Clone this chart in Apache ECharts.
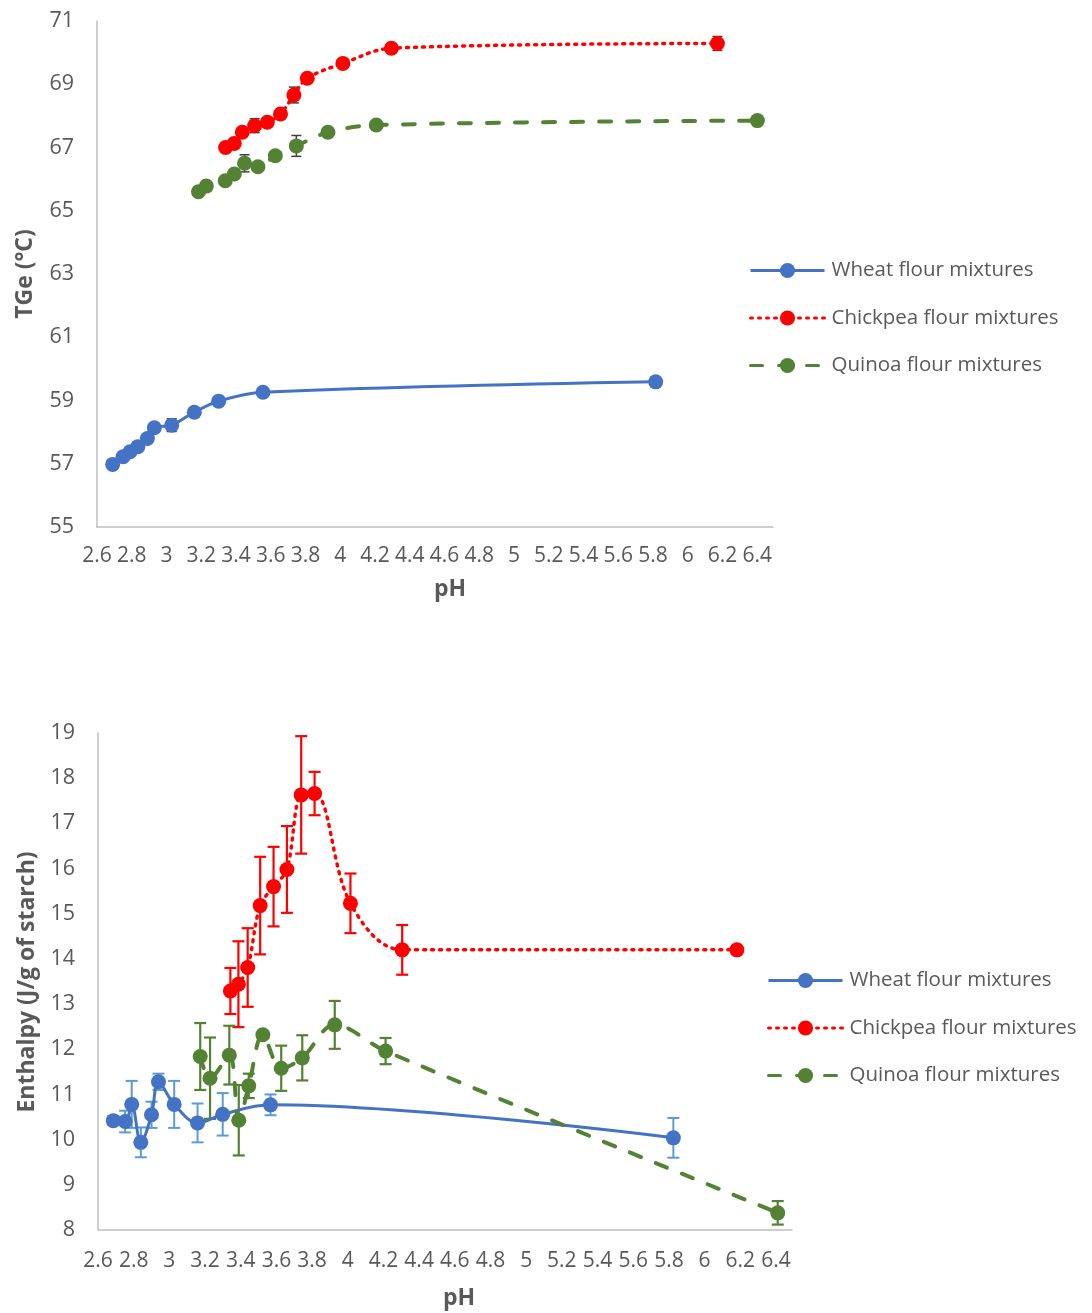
<!DOCTYPE html>
<html><head><meta charset="utf-8">
<script src="https://cdn.jsdelivr.net/npm/echarts@6/dist/echarts.min.js"></script>
<style>html,body{margin:0;padding:0;background:#fff}#c{width:1092px;height:1313px}</style>
</head><body><div id="c"></div>
<script>
const seriesNames = ['Wheat flour mixtures', 'Chickpea flour mixtures', 'Quinoa flour mixtures'];
const xTickLabels = [2.6,2.8,3,3.2,3.4,3.6,3.8,4,4.2,4.4,4.6,4.8,5,5.2,5.4,5.6,5.8,6,6.2,6.4];

// ---- Top chart: TGe (°C) ----
const tgeWheatPH  = [2.69, 2.75, 2.79, 2.835, 2.89, 2.93, 3.03, 3.16, 3.30, 3.555, 5.815];
const tgeWheat    = [56.98, 57.22, 57.38, 57.54, 57.80, 58.14, 58.22, 58.63, 58.98, 59.26, 59.59];
const tgeWheatErr = [0, 0, 0, 0, 0, 0, 0.2, 0, 0, 0, 0];

const tgeChickPH  = [3.34, 3.39, 3.436, 3.507, 3.58, 3.656, 3.733, 3.81, 4.015, 4.294, 6.17];
const tgeChick    = [67.00, 67.13, 67.48, 67.69, 67.80, 68.06, 68.66, 69.19, 69.66, 70.14, 70.29];
const tgeChickErr = [0, 0, 0, 0.22, 0, 0, 0.25, 0, 0, 0, 0.22];

const tgeQuinPH   = [3.184, 3.229, 3.338, 3.39, 3.449, 3.526, 3.626, 3.747, 3.929, 4.207, 6.40];
const tgeQuin     = [65.60, 65.78, 65.95, 66.16, 66.50, 66.39, 66.74, 67.05, 67.48, 67.71, 67.85];
const tgeQuinErr  = [0, 0, 0, 0, 0.27, 0, 0, 0.33, 0, 0, 0];

// ---- Bottom chart: Enthalpy (J/g of starch) ----
const dhWheatPH  = [2.686, 2.752, 2.789, 2.84, 2.90, 2.939, 3.027, 3.158, 3.299, 3.567, 5.825];
const dhWheat    = [10.42, 10.40, 10.78, 9.94, 10.55, 11.28, 10.78, 10.37, 10.56, 10.77, 10.04];
const dhWheatErr = [0.1, 0.24, 0.52, 0.33, 0.29, 0.18, 0.52, 0.43, 0.47, 0.23, 0.44];

const dhChickPH  = [3.342, 3.387, 3.439, 3.509, 3.584, 3.659, 3.739, 3.814, 4.015, 4.305, 6.181];
const dhChick    = [13.29, 13.44, 13.81, 15.18, 15.60, 15.98, 17.63, 17.66, 15.23, 14.20, 14.20];
const dhChickErr = [0.51, 0.95, 0.87, 1.08, 0.88, 0.96, 1.30, 0.48, 0.66, 0.55, 0];

const dhQuinPH   = [3.173, 3.228, 3.336, 3.389, 3.445, 3.524, 3.627, 3.745, 3.927, 4.212, 6.41];
const dhQuin     = [11.84, 11.36, 11.87, 10.43, 11.19, 12.32, 11.58, 11.81, 12.54, 11.96, 8.38];
const dhQuinErr  = [0.74, 0.90, 0.65, 0.78, 0.27, 0, 0.50, 0.50, 0.53, 0.29, 0.26];

const C_WHEAT = '#4472C4', C_CHICK = '#FF0000', C_QUIN = '#548235';
const TXT = '#595959', AXIS = '#BFBFBF', FONT = 'Open Sans';

function zip(xs, ys) { return xs.map((x, i) => [x, ys[i]]); }
function errSeries(xs, ys, es, color, capHalf, idx, lw) {
  return {
    type: 'custom', xAxisIndex: idx, yAxisIndex: idx, z: 2, silent: true,
    data: xs.map((x, i) => [x, ys[i], es[i]]).filter(d => d[2] > 0),
    renderItem(params, api) {
      const x = api.value(0), y = api.value(1), e = api.value(2);
      const t = api.coord([x, y + e]), b = api.coord([x, y - e]);
      const s = { stroke: color, lineWidth: lw };
      return { type: 'group', children: [
        { type: 'line', shape: { x1: t[0], y1: t[1], x2: b[0], y2: b[1] }, style: s },
        { type: 'line', shape: { x1: t[0] - capHalf, y1: t[1], x2: t[0] + capHalf, y2: t[1] }, style: s },
        { type: 'line', shape: { x1: b[0] - capHalf, y1: b[1], x2: b[0] + capHalf, y2: b[1] }, style: s }
      ]};
    }
  };
}
function lineSeries(name, data, color, type, width, idx, size) {
  return {
    name, type: 'line', data, xAxisIndex: idx, yAxisIndex: idx, z: 3,
    smooth: 0.35, symbol: 'circle', symbolSize: size, showSymbol: true,
    itemStyle: { color }, lineStyle: { color, width, type, cap: type === 'solid' ? 'butt' : 'round' },
    emphasis: { disabled: true }, animation: false
  };
}
function xAxisCfg(idx, margin) {
  return {
    type: 'value', gridIndex: idx, min: 2.6, max: 6.49, interval: 0.2,
    axisLine: { onZero: false, lineStyle: { color: AXIS, width: 1.5 } },
    axisTick: { show: false }, splitLine: { show: false },
    axisLabel: {
      color: TXT, fontFamily: FONT, fontSize: 21, margin, hideOverlap: false,
      showMaxLabel: false,
      formatter: v => {
        const m = xTickLabels.find(t => Math.abs(t - v) < 1e-6);
        return m === undefined ? '' : String(m);
      }
    }
  };
}
function yAxisCfg(idx, min, max, step) {
  return {
    type: 'value', gridIndex: idx, min, max, interval: 1,
    axisLine: { show: true, onZero: false, lineStyle: { color: AXIS, width: 1.5 } },
    axisTick: { show: false }, splitLine: { show: false },
    axisLabel: {
      color: TXT, fontFamily: FONT, fontSize: 21.5, margin: 23,
      formatter: v => ((Math.round(v) - min) % step === 0 ? String(Math.round(v)) : '')
    }
  };
}
function legendCfg(left, top) {
  return {
    orient: 'vertical', left, top, itemWidth: 74, itemHeight: 19, itemGap: 26.5,
    data: seriesNames, selectedMode: false,
    lineStyle: { width: 3 },
    textStyle: { color: TXT, fontFamily: FONT, fontSize: 20.5, padding: [0, 0, 0, 2] }
  };
}
function titleText(text, x, y, rot) {
  return { type: 'text', x, y, rotation: rot, silent: true,
    style: { text, fill: TXT, font: 'bold 23px "Open Sans"', align: 'center', verticalAlign: 'middle' } };
}

const chart = echarts.init(document.getElementById('c'), null, { renderer: 'canvas' });
chart.setOption({
  animation: false,
  backgroundColor: '#ffffff',
  grid: [
    { left: 97, top: 21, width: 676, height: 506, containLabel: false },
    { left: 98, top: 733, width: 694, height: 497, containLabel: false }
  ],
  xAxis: [xAxisCfg(0, 19), xAxisCfg(1, 21)],
  yAxis: [yAxisCfg(0, 55, 71, 2), yAxisCfg(1, 8, 19, 1)],
  legend: [legendCfg(744, 255), legendCfg(762, 965)],
  graphic: [
    titleText('TGe (°C)', 25, 274, Math.PI / 2),
    titleText('pH', 450, 589, 0),
    titleText('Enthalpy (J/g of starch)', 27, 982, Math.PI / 2),
    titleText('pH', 459, 1298, 0)
  ],
  series: [
    errSeries(tgeWheatPH, tgeWheat, tgeWheatErr, '#404040', 5, 0, 1.5),
    errSeries(tgeChickPH, tgeChick, tgeChickErr, '#404040', 5, 0, 1.5),
    errSeries(tgeQuinPH, tgeQuin, tgeQuinErr, '#404040', 5, 0, 1.5),
    lineSeries(seriesNames[0], zip(tgeWheatPH, tgeWheat), C_WHEAT, 'solid', 3, 0, 15),
    lineSeries(seriesNames[1], zip(tgeChickPH, tgeChick), C_CHICK, [2, 6], 3.5, 0, 15),
    lineSeries(seriesNames[2], zip(tgeQuinPH, tgeQuin), C_QUIN, [12, 16], 4, 0, 15),
    errSeries(dhWheatPH, dhWheat, dhWheatErr, '#5B9BD5', 6, 1, 2),
    errSeries(dhChickPH, dhChick, dhChickErr, C_CHICK, 6, 1, 2.2),
    errSeries(dhQuinPH, dhQuin, dhQuinErr, C_QUIN, 6, 1, 2.2),
    lineSeries(seriesNames[0], zip(dhWheatPH, dhWheat), C_WHEAT, 'solid', 3, 1, 15),
    lineSeries(seriesNames[1], zip(dhChickPH, dhChick), C_CHICK, [2, 6], 3.5, 1, 15),
    lineSeries(seriesNames[2], zip(dhQuinPH, dhQuin), C_QUIN, [12, 16], 4, 1, 15)
  ]
});
</script></body></html>
